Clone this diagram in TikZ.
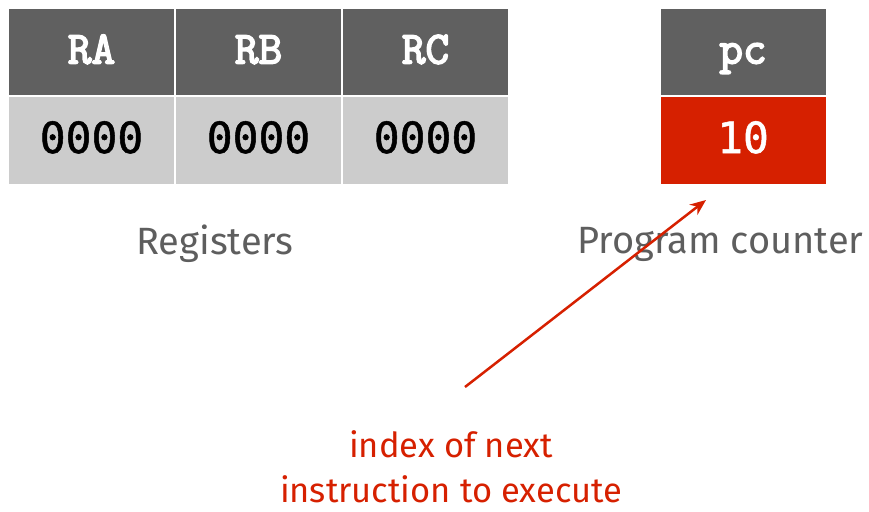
\documentclass[tikz,border=0pt]{standalone}
\usepackage{fontspec}
\setmainfont{Liberation Sans}
\newfontfamily\hdrfont[FakeBold=3.5]{Latin Modern Mono}
\newfontfamily\valfont[FakeBold=1.2]{DejaVu Sans Mono}
\newfontfamily\lblfont{Fira Sans}
\usetikzlibrary{arrows.meta}
\definecolor{hdrgray}{HTML}{606060}
\definecolor{valgray}{HTML}{CCCCCC}
\definecolor{pcred}{HTML}{D62000}
\definecolor{lblgray}{HTML}{5E5E5E}
\begin{document}
\begin{tikzpicture}[x=1pt,y=-1pt,
  hdrcell/.style={fill=hdrgray,draw=none,minimum width=165pt,minimum height=86pt,inner sep=0pt,text height=23pt,text depth=0pt,text=white,font=\hdrfont\fontsize{46}{46}\selectfont},
  valcell/.style={fill=valgray,draw=none,minimum width=165pt,minimum height=87pt,inner sep=0pt,text height=25pt,text depth=0pt,text=black,font=\valfont\fontsize{43}{43}\selectfont},
  pccell/.style={valcell,fill=pcred,text=white},
  lbl/.style={text=lblgray,anchor=base,inner sep=0pt,font=\lblfont\fontsize{38}{38}\selectfont},
  note/.style={text=pcred,anchor=base,inner sep=0pt,font=\lblfont\fontsize{34.5}{34.5}\selectfont},
  pointer/.style={draw=pcred,line width=2.5pt,-{Stealth[length=16pt,width=13pt]}}]
\useasboundingbox (0,0) rectangle (869,511);
\node[hdrcell] (ra) at (91.5,52) {RA};
\node[hdrcell] (rb) at (258.5,52) {RB};
\node[hdrcell] (rc) at (425.5,52) {RC};
\node[valcell] (va) at (91.5,140.5) {0000};
\node[valcell] (vb) at (258.5,140.5) {0000};
\node[valcell] (vc) at (425.5,140.5) {0000};
\node[hdrcell] (pc) at (743,52) {pc};
\node[pccell] (vpc) at (743,140.5) {10};
\node[lbl] (reglbl) at (215,254) {Registers};
\node[lbl] (pclbl) at (720.5,253) {Program counter};
\node[note] (n1) at (451,457) {index of next};
\node[note] (n2) at (451,502) {instruction to execute};
\coordinate (tail) at (465,387);
\coordinate (head) at (706,200);
\draw[pointer] (tail) -- (head);
\end{tikzpicture}
\end{document}
